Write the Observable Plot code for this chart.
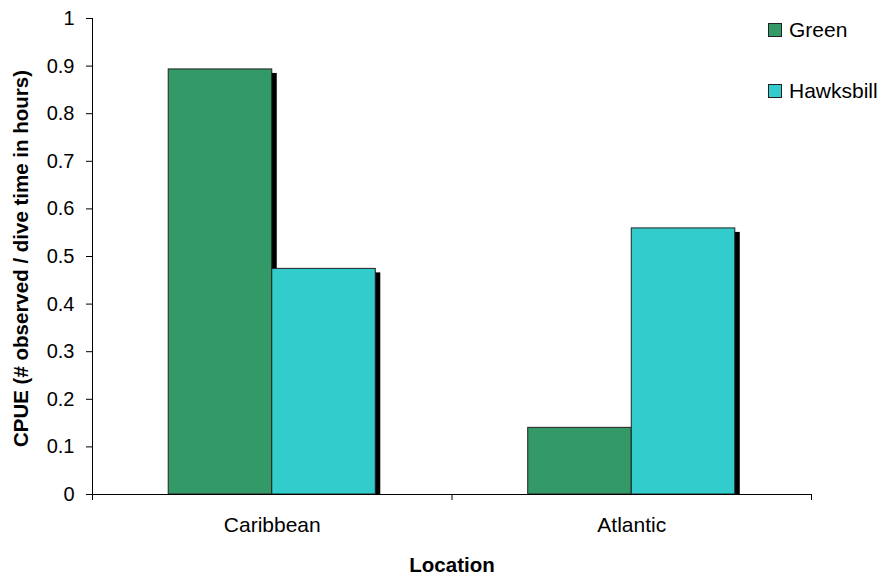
<!DOCTYPE html>
<html>
<head>
<meta charset="utf-8">
<script src="https://cdn.jsdelivr.net/npm/d3@7"></script>
<script src="https://cdn.jsdelivr.net/npm/@observablehq/plot@0.6"></script>
<style>
  html, body { margin: 0; padding: 0; background: #fff; }
  #wrap { position: relative; width: 889px; height: 578px; font-family: Arial, "Liberation Sans", sans-serif; }
  .leg { position: absolute; display: flex; align-items: center; font-size: 21px; line-height: 24px; color: #000; }
  .sw { width: 12px; height: 12px; border: 1px solid #222; margin-right: 7px; }
</style>
</head>
<body>
<div id="wrap"></div>
<script>
const locations = ["Caribbean", "Atlantic"];
const species = ["Green", "Hawksbill"];
const green = [0.893, 0.140];
const hawksbill = [0.474, 0.559];
const colors = ["#339966", "#33CCCC"];
const yTicks = [0, 0.1, 0.2, 0.3, 0.4, 0.5, 0.6, 0.7, 0.8, 0.9, 1];
const yTitle = "CPUE (# observed / dive time in hours)";
const xTitle = "Location";

const barFrac = 0.288; // bar width as fraction of a category
const rows = [];
locations.forEach((loc, i) => {
  [green, hawksbill].forEach((vals, j) => {
    const x1 = i + 0.5 - barFrac + j * barFrac;
    rows.push({location: loc, species: species[j], value: vals[i], x1, x2: x1 + barFrac});
  });
});
const labels = locations.map((loc, i) => ({location: loc, x: i + 0.5, y: 0}));
const xTitleRow = [{text: xTitle, x: locations.length / 2, y: 0}];

const chart = Plot.plot({
  width: 889,
  height: 578,
  marginLeft: 92,
  marginRight: 78,
  marginTop: 18,
  marginBottom: 84,
  style: {fontFamily: "Arial, 'Liberation Sans', sans-serif", fontSize: "20px", color: "#000", background: "#fff", overflow: "visible"},
  x: {type: "linear", domain: [0, locations.length]},
  y: {type: "linear", domain: [0, 1]},
  color: {domain: species, range: colors},
  marks: [
    // shadows
    Plot.rectY(rows, {x1: "x1", x2: "x2", y1: 0, y2: "value", fill: "#000", dx: 5, insetTop: 4}),
    Plot.rectY(rows, {x1: "x1", x2: "x2", y1: 0, y2: "value", fill: "species", stroke: "#222", strokeWidth: 1}),
    Plot.axisY({ticks: yTicks, tickFormat: d => String(+d.toFixed(1)), tickSize: 6, tickPadding: 12,
      fontSize: 20, label: null}),
    Plot.axisX({ticks: d3.range(locations.length + 1), tickFormat: () => "", tickSize: 6, label: null}),
    Plot.ruleY([0], {stroke: "#000"}),
    Plot.ruleX([0], {stroke: "#000"}),
    Plot.text([yTitle], {frameAnchor: "left", textAnchor: "middle", rotate: -90, dx: -71, dy: 2,
      fontWeight: "bold", fontSize: 20.5, text: d => d}),
    Plot.text(labels, {x: "x", y: "y", text: "location", dy: 31, fontSize: 21}),
    Plot.text(xTitleRow, {x: "x", y: "y", text: "text", dy: 71, fontSize: 20.5, fontWeight: "bold"})
  ]
});
const wrap = document.getElementById("wrap");
wrap.appendChild(chart);

const legTops = [18, 79];
species.forEach((s, i) => {
  const d = document.createElement("div");
  d.className = "leg";
  d.style.left = "768px";
  d.style.top = legTops[i] + "px";
  d.innerHTML = `<span class="sw" style="background:${colors[i]}"></span><span>${s}</span>`;
  wrap.appendChild(d);
});
</script>
</body>
</html>
